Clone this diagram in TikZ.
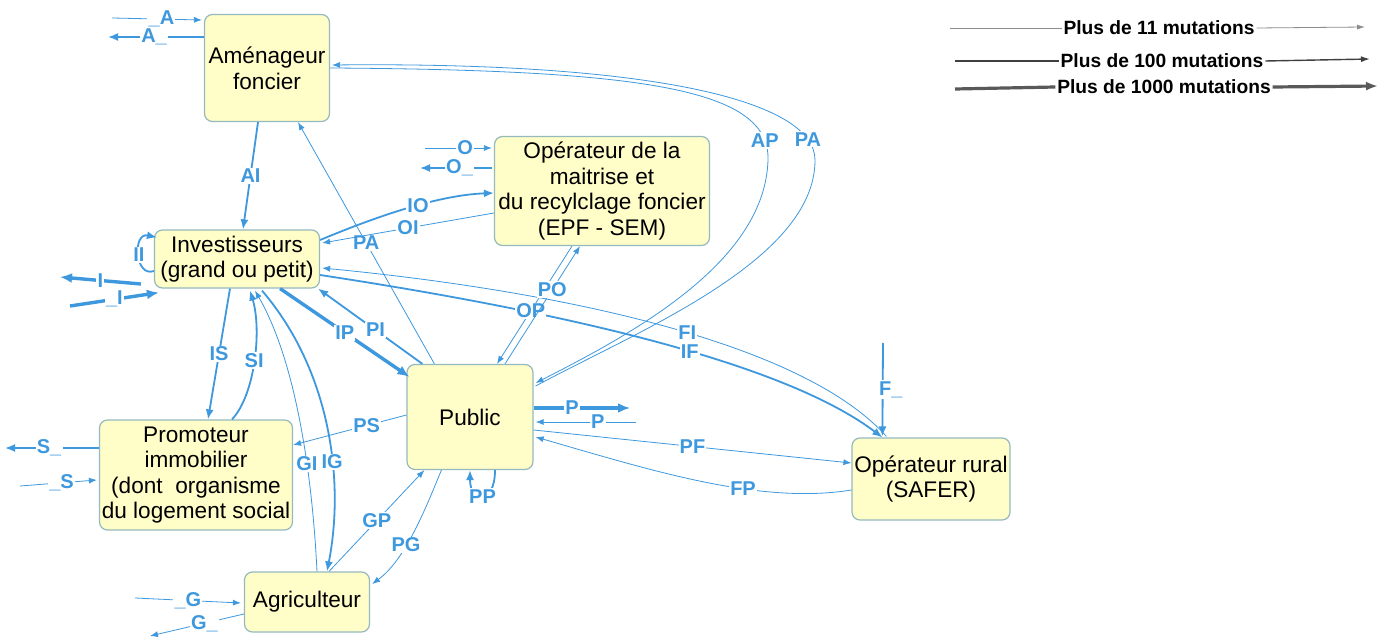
\documentclass[tikz,border=0pt]{standalone}
\usepackage{fontspec}
\setmainfont{Liberation Sans}
\usetikzlibrary{arrows.meta, calc}

\definecolor{flow}{RGB}{62,152,222}
\definecolor{boxfill}{RGB}{255,253,200}
\definecolor{boxline}{RGB}{150,185,190}

\begin{document}
\begin{tikzpicture}[x=0.5pt,y=-0.5pt,
  actor/.style={draw=boxline, fill=boxfill, rounded corners=4pt, line width=0.6pt, align=center, inner sep=1pt, font=\fontsize{11.3}{12.8}\selectfont},
  lab/.style={fill=white, text=flow, inner sep=0.6pt, font=\fontsize{10}{10}\selectfont\bfseries},
  fthin/.style={draw=flow, line width=0.4pt, -{Latex[length=4pt,width=3pt]}},
  fmid/.style={draw=flow, line width=0.9pt, -{Latex[length=5pt,width=4pt]}},
  fthick/.style={draw=flow, line width=1.7pt, -{Latex[length=6pt,width=5pt]}},
  legtext/.style={fill=white, inner sep=0.8pt, font=\fontsize{9.6}{10}\selectfont\bfseries}]
\useasboundingbox[fill=white] (0,0) rectangle (1380,641);

% boxes
\node[actor, minimum width=62.5pt, minimum height=53.5pt] (amen) at (267,68) {Aménageur\\foncier};
\node[actor, minimum width=107.5pt, minimum height=54.5pt] (omf) at (602,191) {Opérateur de la\\maitrise et\\du recylclage foncier\\(EPF - SEM)};
\node[actor, minimum width=82.5pt, minimum height=29pt] (inv) at (237,259) {Investisseurs\\(grand ou petit)};
\node[actor, minimum width=63pt, minimum height=52.5pt] (pub) at (470,417) {Public};
\node[actor, minimum width=96.5pt, minimum height=55pt] (prom) at (196,475) {Promoteur\\immobilier\\(dont~ organisme\\du logement social};
\node[actor, minimum width=62.5pt, minimum height=30pt] (agri) at (307,602) {Agriculteur};
\node[actor, minimum width=79pt, minimum height=41pt] (safer) at (931,479) {Opérateur rural\\(SAFER)};

% free ends
\coordinate (ain) at (112,18);
\coordinate (aout) at (108,37);
\coordinate (oin) at (425,148);
\coordinate (oout) at (420,168);
\coordinate (iout) at (60,277);
\coordinate (iin) at (70,306);
\coordinate (sout) at (5,448);
\coordinate (sin) at (20,486);
\coordinate (gin) at (135,598);
\coordinate (gout) at (150,636);
\coordinate (pout) at (630,408);
\coordinate (pin) at (636,422);
\coordinate (fin) at (883,343);

% flows
\draw[fthin] (ain) -- node[lab, pos=0.55]{\_A} ($(amen.west)+(-2,-48)$);
\draw[fmid] ($(amen.west)+(0,-31)$) -- node[lab, pos=0.52]{A\_} (aout);
\draw[fmid] ($(amen.south)+(-9,0)$) -- node[lab]{AI} ($(inv.north)+(6,0)$);
\draw[fthin] ($(pub.north west)+(28,0)$) -- node[lab]{PA} ($(amen.south)+(31,0)$);
\draw[fthin] (amen.east) .. controls (650,70) and (770,90) .. node[lab, pos=0.9]{AP} (768,160)
  .. controls (765,260) and (640,330) .. ($(pub.east)+(2,-34)$);
\draw[fthin] ($(pub.east)+(2,-31)$) .. controls (640,330) and (815,260) .. (815,160)
  .. controls (815,100) and (650,62) .. node[lab, pos=0.12]{PA} ($(amen.east)+(2,-3)$);

\draw[fthin] (oin) -- node[lab, pos=0.6]{O} ($(omf.west)+(-2,-43)$);
\draw[fmid] ($(omf.west)+(-2,-23)$) -- node[lab, pos=0.45]{O\_} (oout);
\draw[fmid] ($(inv.east)+(0,-19)$) .. controls (380,215) and (440,195) .. node[lab, pos=0.55]{IO} ($(omf.west)+(0,2)$);
\draw[fthin] ($(omf.west)+(0,22)$) -- node[lab]{OI} ($(inv.east)+(2,-16)$);

\draw[fmid] ($(inv.west)+(0,12)$) .. controls (135,278) and (132,232) .. node[lab]{II} ($(inv.north west)+(3,8)$);
\draw[fthick] ($(inv.west)+(-13,25)$) -- node[lab]{I} (iout);
\draw[fthick] (iin) -- node[lab]{\_I} ($(inv.south west)+(5,4)$);

\draw[fmid] ($(inv.south)+(-7,0)$) -- node[lab]{IS} ($(prom.north)+(12,0)$);
\draw[fmid] ($(prom.north)+(36,0)$) .. controls (255,395) and (262,330) .. node[lab]{SI} ($(inv.south)+(13,2)$);
\draw[fthin] ($(agri.north)+(10,0)$) .. controls (312,470) and (295,360) .. node[lab, pos=0.35]{GI} ($(inv.south)+(18,2)$);
\draw[fmid] ($(inv.south)+(25,2)$) .. controls (330,370) and (345,480) .. node[lab, pos=0.62]{IG} ($(agri.north)+(20,0)$);

\draw[fthick] ($(inv.south east)+(-40,0)$) -- node[lab]{IP} ($(pub.north west)+(3,13)$);
\draw[fmid] ($(pub.north west)+(16,0)$) -- node[lab, pos=0.45]{PI} ($(inv.south east)+(-2,0)$);
\draw[fmid] ($(inv.east)+(0,16)$) .. controls (550,310) and (780,360) .. node[lab, pos=0.57]{IF} ($(safer.north west)+(31,0)$);
\draw[fthin] ($(safer.north west)+(35,-1)$) .. controls (800,340) and (550,290) .. node[lab, pos=0.45]{FI} ($(inv.east)+(2,9)$);

\draw[fthin] ($(omf.south)+(-30,0)$) -- node[lab, pos=0.55]{OP} ($(pub.north)+(27,0)$);
\draw[fthin] ($(pub.north)+(35,0)$) -- node[lab, pos=0.63]{PO} ($(omf.south)+(-22,0)$);

\draw[fthin] ($(pub.west)+(0,-2)$) -- node[lab, pos=0.35]{PS} ($(prom.east)+(0,-30)$);
\draw[fmid] ($(pub.south)+(25,0)$) .. controls +(0,35) and +(0,35) .. node[lab]{PP} (pub.south);
\draw[fthick] ($(pub.east)+(0,-9)$) -- node[lab, pos=0.4]{P} (pout);
\draw[fthin] (pin) -- node[lab, pos=0.38]{P} ($(pub.east)+(2,5)$);
\draw[fthin] ($(pub.east)+(0,13)$) -- node[lab]{PF} ($(safer.west)+(0,-16)$);
\draw[fthin] ($(safer.west)+(0,11)$) .. controls (760,505) and (650,470) .. node[lab, pos=0.37]{FP} ($(pub.east)+(2,20)$);
\draw[fmid] (fin) -- node[lab, xshift=4pt]{F\_} ($(safer.north west)+(31,-1)$);

\draw[fthin] ($(agri.north)+(22,0)$) -- node[lab]{GP} ($(pub.south west)+(18,0)$);
\draw[fthin] ($(pub.south west)+(35,0)$) .. controls (425,510) and (405,560) .. node[lab, pos=0.6]{PG} ($(agri.east)+(2,-18)$);
\draw[fthin] (gin) -- node[lab]{\_G} ($(agri.west)+(-3,1)$);
\draw[fthin] ($(agri.west)+(0,12)$) -- node[lab, pos=0.42]{G\_} (gout);

\draw[fmid] ($(prom.west)+(0,-27)$) -- node[lab, pos=0.53]{S\_} (sout);
\draw[fthin] (sin) -- node[lab, pos=0.54]{\_S} ($(prom.west)+(-2,5)$);

% legend
\node[legtext] (leg1) at (1159,28) {Plus de 11 mutations};
\node[legtext] (leg2) at (1162,61) {Plus de 100 mutations};
\node[legtext] (leg3) at (1164,87) {Plus de 1000 mutations};
\coordinate (l1a) at (950,28);
\coordinate (l1b) at (1365,27);
\coordinate (l2a) at (955,61);
\coordinate (l2b) at (1370,59);
\coordinate (l3a) at (955,89);
\coordinate (l3b) at (1378,86);
\draw[black!45, line width=0.4pt] (l1a) -- (leg1.west);
\draw[black!45, line width=0.4pt, -{Latex[length=4pt,width=2.5pt]}] (leg1.east) -- (l1b);
\draw[black!75, line width=0.7pt] (l2a) -- (leg2.west);
\draw[black!75, line width=0.7pt, -{Latex[length=4.5pt,width=3pt]}] (leg2.east) -- (l2b);
\draw[black!65, line width=1.6pt] (l3a) -- (leg3.west);
\draw[black!65, line width=1.6pt, -{Latex[length=6pt,width=4.5pt]}] (leg3.east) -- (l3b);
\end{tikzpicture}
\end{document}
